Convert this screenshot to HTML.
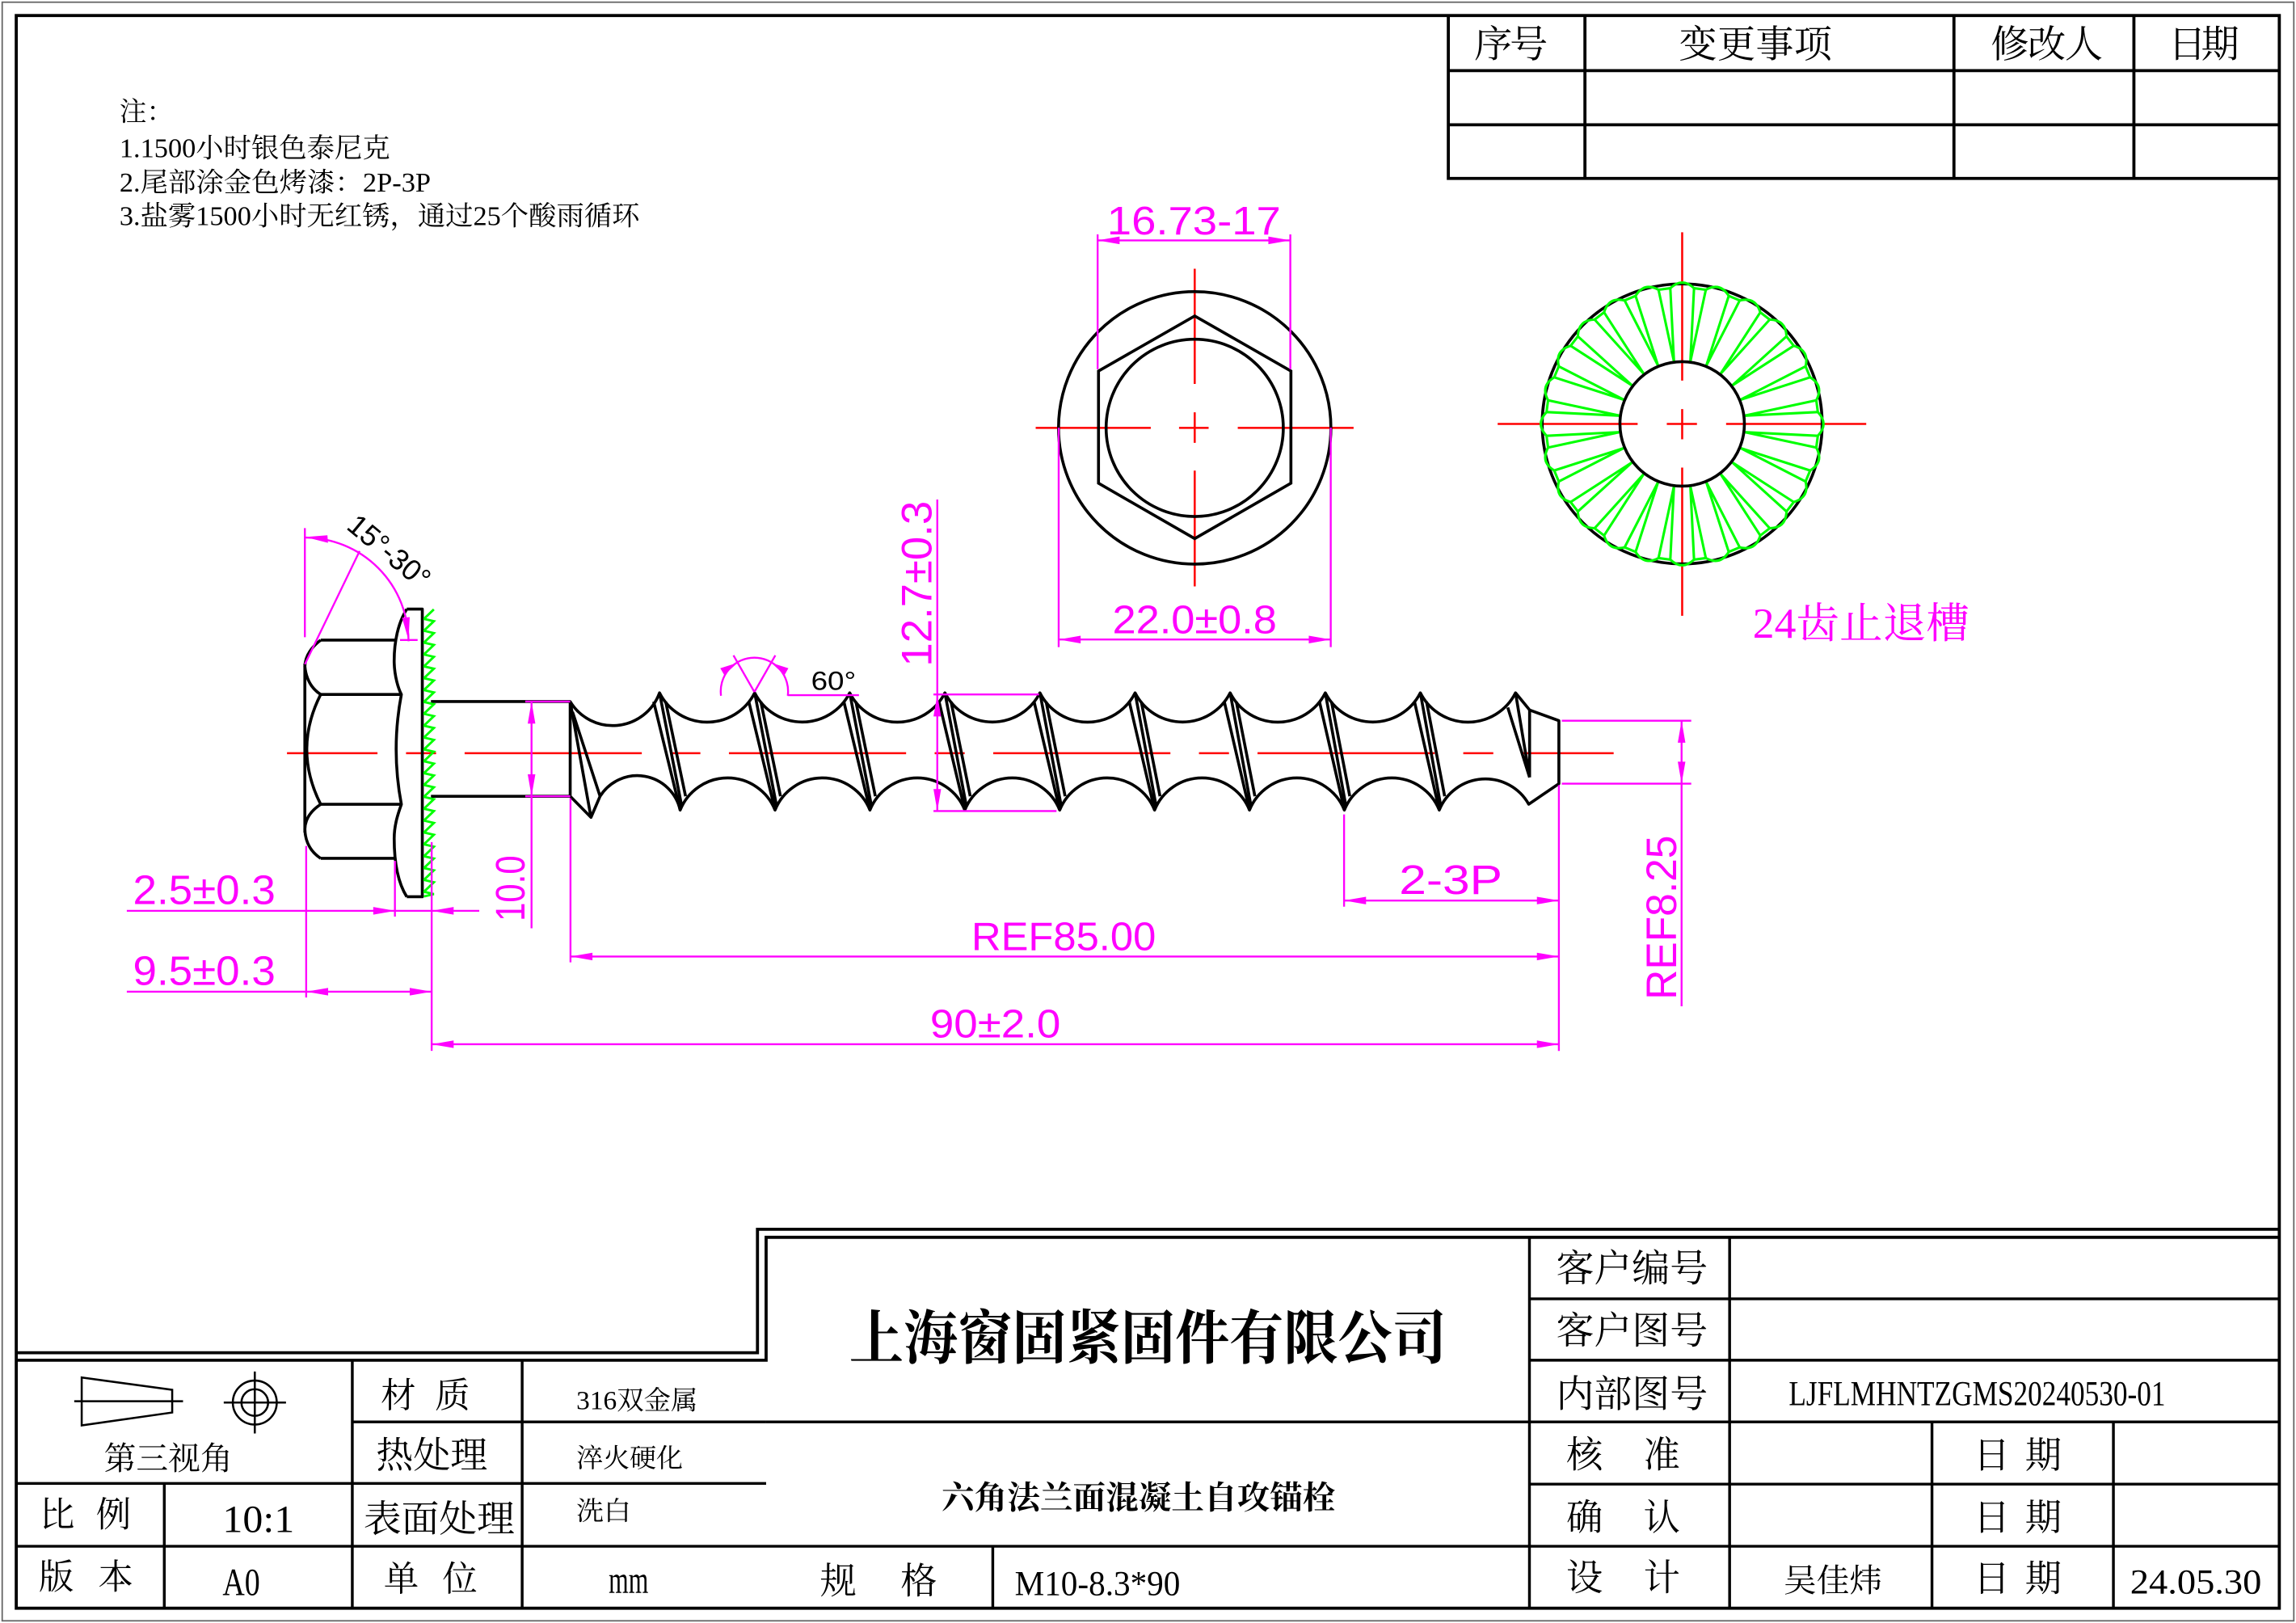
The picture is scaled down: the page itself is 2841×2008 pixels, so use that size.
<!DOCTYPE html>
<html><head><meta charset="utf-8">
<style>
html,body{margin:0;padding:0;background:#fff;}
svg{display:block;}
.cj{font-family:"Liberation Serif","Noto Serif CJK SC",serif;fill:#000;}
.lt{font-family:"Liberation Serif",serif;fill:#000;}
.dim{font-family:"Liberation Sans",sans-serif;fill:#ff00ff;}
</style></head><body>
<svg width="2841" height="2008" viewBox="0 0 1568 1108" preserveAspectRatio="none" xmlns="http://www.w3.org/2000/svg">
<defs>
<path id="t" d="M92.91,-4.06 L43,0 L92.91,4.06 Z M92.91,-4.06 Q99.49,-13.10 90.80,-20.13"/>
</defs>
<rect x="0" y="0" width="1568" height="1108" fill="#fff"/>
<!-- outer thin frame -->
<rect x="1.5" y="1.5" width="1565" height="1105" fill="none" stroke="#666" stroke-width="1"/>
<!-- inner thick border -->
<rect x="11.1" y="10.6" width="1545.5" height="1087.3" fill="none" stroke="#000" stroke-width="2.1"/>

<!-- revision table -->
<g stroke="#000" stroke-width="2.1" fill="none">
<path d="M989.1,10.6 V121.8 H1556.6 M989.1,48.2 H1556.6 M989.1,85.2 H1556.6 M1082.4,10.6 V121.8 M1334.4,10.6 V121.8 M1457.3,10.6 V121.8"/>
</g>
<g class="cj" font-size="26" text-anchor="middle" dominant-baseline="central">
<text x="1031.9" y="30.8" textLength="50.3">序号</text>
<text x="1198.9" y="30.8" textLength="104.5">变更事项</text>
<text x="1397.8" y="30.8" textLength="76.5">修改人</text>
<text x="1505" y="30.8" textLength="48.5">日期</text>
</g>

<!-- notes -->
<g class="cj" font-size="18.5" dominant-baseline="central">
<text x="81.6" y="76.8">注：</text>
<text x="81.6" y="101.6" textLength="184.8" lengthAdjust="spacingAndGlyphs">1.1500小时银色泰尼克</text>
<text x="81.6" y="125" textLength="212.6" lengthAdjust="spacingAndGlyphs">2.尾部涂金色烤漆：2P-3P</text>
<text x="81.6" y="148" textLength="355.2" lengthAdjust="spacingAndGlyphs">3.盐雾1500小时无红锈，通过25个酸雨循环</text>
</g>

<!-- ================= side view ================= -->
<line x1="196" y1="514.2" x2="1102" y2="514.2" stroke="#ff0000" stroke-width="1.4" stroke-dasharray="121 19.5 20.5 19.5" stroke-dashoffset="59.2"/>

<g stroke="#000" stroke-width="2" fill="none" stroke-linejoin="round">
<path d="M219,437 H270.4 M219,474.1 H274.1 M219,549.1 H274.1 M219,586 H270.4 M208.2,453 V568.4"/>
<path d="M219,437 Q208.5,445 208.2,455 Q209.5,468 219,474.1"/>
<path d="M219,474.1 Q200,511.5 219,549.1"/>
<path d="M219,549.1 Q208.5,556 208.2,566 Q208.5,579 219,586"/>
<path d="M277.8,415.8 C272,425 269,438 269.2,452.5 C269.5,462 272,470 274.1,474.1 Q267,511.5 274.1,549.1 C272,555 269.2,563 269.2,572.4 C269.2,590 272,603 277.8,612.2"/>
<path d="M277.8,415.8 H288.4 V612.2 H277.8"/>
<path d="M294.3,478.9 H389.4 M294.3,543.6 H389.4"/>
<path d="M389.4,479 A34 34 0 0 0 450.4,473 A36.4 36.4 0 0 0 515.4,473 A36.4 36.4 0 0 0 580.3,473 A36.4 36.4 0 0 0 645.3,473 A36.4 36.4 0 0 0 710.2,473 A36.4 36.4 0 0 0 775.2,473 A36.4 36.4 0 0 0 840.1,473 A36.4 36.4 0 0 0 905.1,473 A36.4 36.4 0 0 0 970,473 A36.4 36.4 0 0 0 1035,473 L1044.6,484.7 L1064.6,492 L1064.6,535 L1044,549 A34 34 0 0 0 982.9,553 A34.9 34.9 0 0 0 918.1,553 A34.9 34.9 0 0 0 853.3,553 A34.9 34.9 0 0 0 788.5,553 A34.9 34.9 0 0 0 723.7,553 A34.9 34.9 0 0 0 658.9,553 A34.9 34.9 0 0 0 594.1,553 A34.9 34.9 0 0 0 529.3,553 A34.9 34.9 0 0 0 464.5,553 A30 30 0 0 0 409.8,543.6 L403.6,558 L389.4,543.6 Z"/>
<path d="M389.4,479 L403.6,558 M391,486 L409.8,543.6
M446.4,479 L464.5,553 M450.4,473 L465.5,550 M454.6,479 L468.2,543.6
M511.4,479 L529.3,553 M515.4,473 L530.3,550 M519.6,479 L533,543.6
M576.3,479 L594.1,553 M580.3,473 L595.1,550 M584.5,479 L597.8,543.6
M641.3,479 L658.9,553 M645.3,473 L659.9,550 M649.5,479 L662.6,543.6
M706.2,479 L723.7,553 M710.2,473 L724.7,550 M714.4,479 L727.4,543.6
M771.2,479 L788.5,553 M775.2,473 L789.5,550 M779.4,479 L792.2,543.6
M836.1,479 L853.3,553 M840.1,473 L854.3,550 M844.3,479 L857,543.6
M901.1,479 L918.1,553 M905.1,473 L919.1,550 M909.3,479 L921.8,543.6
M966,479 L982.9,553 M970,473 L983.9,550 M974.2,479 L986.6,543.6
M1029.7,483 L1044.6,530.7 M1035,473 L1044.6,530.7 M1044.6,484.7 L1044.6,530.7"/>
</g>
<polyline fill="none" stroke="#00ff00" stroke-width="1.6" points="296.3,416 289.5,422.5 296.3,424.1 289.5,430.6 296.3,432.2 289.5,438.7 296.3,440.3 289.5,446.8 296.3,448.4 289.5,454.9 296.3,456.5 289.5,463 296.3,464.6 289.5,471.1 296.3,472.7 289.5,479.2 296.3,480.8 289.5,487.3 296.3,488.9 289.5,495.4 296.3,497 289.5,503.5 296.3,505.1 289.5,511.6 296.3,513.2 289.5,519.7 296.3,521.3 289.5,527.8 296.3,529.4 289.5,535.9 296.3,537.5 289.5,544 296.3,545.6 289.5,552.1 296.3,553.7 289.5,560.2 296.3,561.8 289.5,568.3 296.3,569.9 289.5,576.4 296.3,578 289.5,584.5 296.3,586.1 289.5,592.6 296.3,594.2 289.5,600.7 296.3,602.3 289.5,608.8 296.3,610.4 289.5,612"/>
<line x1="288.4" y1="416" x2="288.4" y2="612" stroke="#000" stroke-width="1.4"/>

<g stroke="#ff00ff" stroke-width="1.3" fill="none">
<path d="M208.2,360.5 V435 M208.2,453.5 L245.6,376.2 M273.2,436.9 H285.2"/>
<path d="M208.5,367 A70.8 70.8 0 0 1 279,437.8"/>
<path d="M358.7,478.9 H389.4 M358.7,543.6 H389.4 M363,479 V633.7"/>
<path d="M209.1,577.5 V681 M269.7,587.7 V625.7 M294.8,574.9 V717.4 M389.6,545 V657 M1064.6,536 V717.5 M917.9,556 V619"/>
<path d="M86.6,621.8 H327.3"/>
<path d="M86.6,677 H294.8"/>
<path d="M294.8,712.9 H1064.6"/>
<path d="M389.6,653 H1064.6"/>
<path d="M917.9,614.8 H1064.6"/>
<path d="M1066.6,492 H1155 M1066.6,535 H1155 M1148.4,492 V687"/>
<path d="M640.1,341 V553.7 M637.5,474.1 H709.6 M637.5,553.7 H721.5"/>
<path d="M515.2,472.4 L500.9,447.4 M515.2,472.4 L529.5,447.4 M492.4,475 A23 23 0 1 1 538,475 M537.9,474.6 H586.6"/>
</g>
<g fill="#ff00ff" stroke="none">
<polygon points="269.9,621.8 254.9,619.2 254.9,624.4"/>
<polygon points="294.8,621.8 309.8,619.2 309.8,624.4"/>
<polygon points="209.1,677 224.1,674.4 224.1,679.6"/>
<polygon points="294.8,677 279.8,674.4 279.8,679.6"/>
<polygon points="294.8,712.9 309.8,710.3 309.8,715.5"/>
<polygon points="1064.6,712.9 1049.6,710.3 1049.6,715.5"/>
<polygon points="389.6,653 404.6,650.4 404.6,655.6"/>
<polygon points="1064.6,653 1049.6,650.4 1049.6,655.6"/>
<polygon points="917.9,614.8 932.9,612.2 932.9,617.4"/>
<polygon points="1064.6,614.8 1049.6,612.2 1049.6,617.4"/>
<polygon points="363,479 360.4,494 365.6,494"/>
<polygon points="363,543.6 360.4,528.6 365.6,528.6"/>
<polygon points="640.1,474.1 637.5,489.1 642.7,489.1"/>
<polygon points="640.1,553.7 637.5,538.7 642.7,538.7"/>
<polygon points="1148.4,492 1145.8,507 1151,507"/>
<polygon points="1148.4,535 1145.8,520 1151,520"/>
<polygon points="749.6,164.1 764.6,161.5 764.6,166.7"/>
<polygon points="881.2,164.1 866.2,161.5 866.2,166.7"/>
<polygon points="723,436.6 738,434 738,439.2"/>
<polygon points="908.8,436.6 893.8,434 893.8,439.2"/>
<polygon points="208.5,366.6 223.6,365.4 224,370.6"/>
<polygon points="279,437 274.6,421.7 279.8,421.3"/>
<polygon points="503.7,452.5 494.6,460.8 491.9,456.2"/>
<polygon points="526.7,452.5 535.8,460.8 538.4,456.2"/>
</g>
<g class="dim">
<text x="90.8" y="617.2" font-size="28" textLength="97.3" lengthAdjust="spacingAndGlyphs">2.5±0.3</text>
<text x="90.8" y="672.4" font-size="28" textLength="97.3" lengthAdjust="spacingAndGlyphs">9.5±0.3</text>
<text transform="translate(358.2,629) rotate(-90)" font-size="28" textLength="45" lengthAdjust="spacingAndGlyphs">10.0</text>
<text x="663.4" y="648.5" font-size="27" textLength="126" lengthAdjust="spacingAndGlyphs">REF85.00</text>
<text x="635.2" y="708.2" font-size="27" textLength="89.1" lengthAdjust="spacingAndGlyphs">90±2.0</text>
<text x="955.5" y="610.4" font-size="28" textLength="70.5" lengthAdjust="spacingAndGlyphs">2-3P</text>
<text transform="translate(1144.8,682.5) rotate(-90)" font-size="29" textLength="112.2" lengthAdjust="spacingAndGlyphs">REF8.25</text>
<text transform="translate(636,455) rotate(-90)" font-size="29" textLength="113" lengthAdjust="spacingAndGlyphs">12.7±0.3</text>
<text x="756" y="160" font-size="27" textLength="118.7" lengthAdjust="spacingAndGlyphs">16.73-17</text>
<text x="759.7" y="432.2" font-size="27" textLength="112.3" lengthAdjust="spacingAndGlyphs">22.0±0.8</text>
</g>
<text transform="translate(235.8,360.5) rotate(39.6)" font-family="Liberation Sans, sans-serif" font-size="20" fill="#000" textLength="66.5" lengthAdjust="spacingAndGlyphs">15°-30°</text>
<text x="553.9" y="470.9" font-family="Liberation Sans, sans-serif" font-size="18" fill="#000" textLength="30.7" lengthAdjust="spacingAndGlyphs">60°</text>

<!-- ================= hex top view ================= -->
<g stroke="#ff0000" stroke-width="1.4">
<path d="M707.3,292.1 H785.9 M805.2,292.1 H825.4 M845.3,292.1 H924.4 M815.9,183.5 V262.1 M815.9,281.5 V302.3 M815.9,321.3 V400.3"/>
</g>
<g stroke="#000" stroke-width="2" fill="none">
<circle cx="815.9" cy="292.1" r="93"/>
<polygon points="815.9,215.7 881.6,253.3 881.6,329.9 815.9,367.7 750.2,329.9 750.2,253.3"/>
<circle cx="815.9" cy="292.1" r="60.5"/>
</g>
<g stroke="#ff00ff" stroke-width="1.3" fill="none">
<path d="M749.6,160 V252 M881.2,160 V252 M749.6,164.1 H881.2 M723,292 V441.8 M908.8,292 V441.8 M723,436.6 H908.8"/>
</g>

<!-- ================= washer view ================= -->
<g stroke="#ff0000" stroke-width="1.4">
<path d="M1022.8,289.4 H1118.4 M1138.3,289.4 H1158.9 M1178.8,289.4 H1274.5 M1148.8,158.6 V259.8 M1148.8,279.3 V299.9 M1148.8,319.2 V420.4"/>
</g>
<circle cx="1148.8" cy="289.4" r="95.6" fill="none" stroke="#000" stroke-width="2"/>
<g transform="translate(1148.8,289.4)" fill="none" stroke="#00ff00" stroke-width="1.7" stroke-linejoin="round">
<use href="#t" transform="rotate(-7.5)"/>
<use href="#t" transform="rotate(-22.5)"/>
<use href="#t" transform="rotate(-37.5)"/>
<use href="#t" transform="rotate(-52.5)"/>
<use href="#t" transform="rotate(-67.5)"/>
<use href="#t" transform="rotate(-82.5)"/>
<use href="#t" transform="rotate(-97.5)"/>
<use href="#t" transform="rotate(-112.5)"/>
<use href="#t" transform="rotate(-127.5)"/>
<use href="#t" transform="rotate(-142.5)"/>
<use href="#t" transform="rotate(-157.5)"/>
<use href="#t" transform="rotate(-172.5)"/>
<use href="#t" transform="rotate(-187.5)"/>
<use href="#t" transform="rotate(-202.5)"/>
<use href="#t" transform="rotate(-217.5)"/>
<use href="#t" transform="rotate(-232.5)"/>
<use href="#t" transform="rotate(-247.5)"/>
<use href="#t" transform="rotate(-262.5)"/>
<use href="#t" transform="rotate(-277.5)"/>
<use href="#t" transform="rotate(-292.5)"/>
<use href="#t" transform="rotate(-307.5)"/>
<use href="#t" transform="rotate(-322.5)"/>
<use href="#t" transform="rotate(-337.5)"/>
<use href="#t" transform="rotate(-352.5)"/>
</g>
<circle cx="1148.8" cy="289.4" r="42.5" fill="none" stroke="#000" stroke-width="2"/>
<text x="1197" y="426" class="cj" style="fill:#ff00ff" font-size="29" dominant-baseline="central" textLength="148" lengthAdjust="spacingAndGlyphs">24齿止退槽</text>

<!-- ================= title block ================= -->
<g stroke="#000" stroke-width="2.1" fill="none">
<path d="M11.1,923.5 H517.3 V839.2 H1556.6"/>
<path d="M11.1,928.6 H523.2 V844.7 H1556.6"/>
</g>
<g stroke="#000" stroke-width="1.9" fill="none">
<path d="M240.6,928.6 V1097.9 M356.6,928.6 V1097.9 M112.2,1012.7 V1097.9"/>
<path d="M240.6,970.7 H523.2"/>
<path d="M11.1,1012.7 H523.2"/>
<path d="M11.1,1055.6 H1556.6"/>
<path d="M523.2,970.7 H1556.6"/>
<path d="M678,1055.6 V1097.9 M1044.5,844.7 V1097.9"/>
<path d="M1181.2,844.7 V1097.9 M1319.4,970.7 V1097.9 M1443.3,970.7 V1097.9"/>
<path d="M1044.5,886.7 H1556.6 M1044.5,928.6 H1556.6 M1044.5,1013.2 H1556.6"/>
</g>
<g stroke="#000" stroke-width="1.4" fill="none">
<polygon points="55.8,940.4 117.6,948.8 117.6,964.3 55.8,973.1"/>
<path d="M50.7,956.6 H125 M174,936.3 V978.6 M152.8,957.5 H195.3"/>
<circle cx="174" cy="957.5" r="15"/>
<circle cx="174" cy="957.5" r="9.1"/>
</g>

<g class="cj" dominant-baseline="central">
<text x="71" y="995.6" font-size="22" textLength="87.8" lengthAdjust="spacingAndGlyphs">第三视角</text>
<text x="260" y="953.3" font-size="24" textLength="61">材质</text>
<text x="256.8" y="993.8" font-size="25" textLength="76.2" lengthAdjust="spacingAndGlyphs">热处理</text>
<text x="248.3" y="1037" font-size="25.5" textLength="103.2" lengthAdjust="spacingAndGlyphs">表面处理</text>
<text x="262" y="1078.5" font-size="24" textLength="64">单位</text>
<text x="27" y="1034.7" font-size="24" textLength="62.5">比例</text>
<text x="26.4" y="1077" font-size="24" textLength="64.6">版本</text>
<text x="393.6" y="956.5" font-size="18" textLength="82.9" lengthAdjust="spacingAndGlyphs">316双金属</text>
<text x="393.6" y="996" font-size="18" textLength="72.8" lengthAdjust="spacingAndGlyphs">淬火硬化</text>
<text x="393.6" y="1032" font-size="18" textLength="37.4" lengthAdjust="spacingAndGlyphs">洗白</text>

<text x="1062.7" y="866.5" font-size="26" textLength="103.6" lengthAdjust="spacingAndGlyphs">客户编号</text>
<text x="1062.7" y="909.2" font-size="26" textLength="103.6" lengthAdjust="spacingAndGlyphs">客户图号</text>
<text x="1062.7" y="952.5" font-size="26" textLength="103.6" lengthAdjust="spacingAndGlyphs">内部图号</text>
<text x="1069.6" y="993.4" font-size="25" textLength="77.8">核准</text>
<text x="1069.6" y="1036.2" font-size="25" textLength="77.8">确认</text>
<text x="1069.6" y="1077.5" font-size="25" textLength="77.8">设计</text>
<text x="1347.7" y="993.8" font-size="25" textLength="60.3">日期</text>
<text x="1347.7" y="1036.2" font-size="25" textLength="60.3">日期</text>
<text x="1347.7" y="1078" font-size="25" textLength="60.3">日期</text>
<text x="1218" y="1079" font-size="22" textLength="67.5" lengthAdjust="spacingAndGlyphs">吴佳炜</text>

<text x="580" y="914" font-size="40" font-weight="bold" textLength="408" lengthAdjust="spacingAndGlyphs">上海窗固紧固件有限公司</text>
<text x="643" y="1022.5" font-size="22" font-weight="bold" textLength="269" lengthAdjust="spacingAndGlyphs">六角法兰面混凝土自攻锚栓</text>
<text x="560" y="1079.5" font-size="25" textLength="80">规格</text>
</g>
<g class="lt">
<text x="415.7" y="1087.2" font-size="26" textLength="27.1" lengthAdjust="spacingAndGlyphs">mm</text>
<text x="152" y="1045.8" font-size="26" textLength="49" lengthAdjust="spacingAndGlyphs">10:1</text>
<text x="152" y="1089" font-size="26" textLength="25.6" lengthAdjust="spacingAndGlyphs">A0</text>
<text x="1221.6" y="959.3" font-size="24" textLength="257.3" lengthAdjust="spacingAndGlyphs">LJFLMHNTZGMS20240530-01</text>
<text x="1454.7" y="1088" font-size="24" textLength="89.8" lengthAdjust="spacingAndGlyphs">24.05.30</text>
<text x="693" y="1089" font-size="24" textLength="113" lengthAdjust="spacingAndGlyphs">M10-8.3*90</text>
</g>
</svg>
</body></html>
